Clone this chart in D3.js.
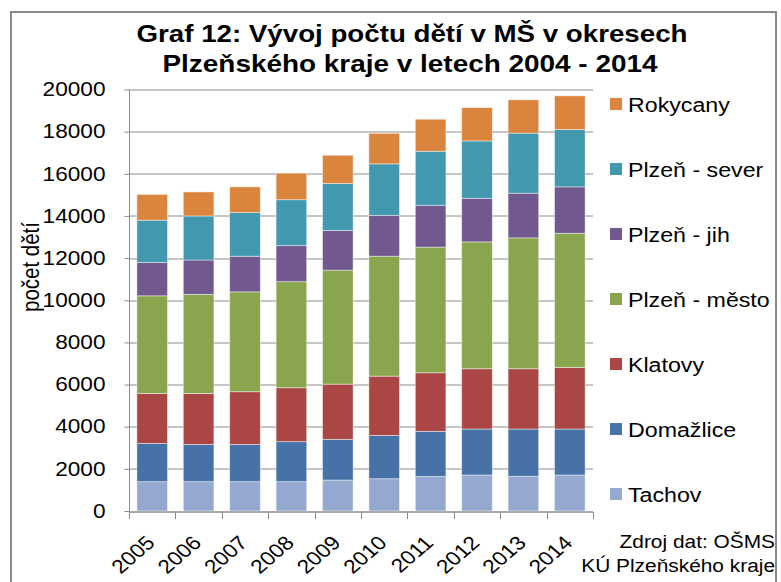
<!DOCTYPE html>
<html>
<head>
<meta charset="utf-8">
<script src="https://cdn.jsdelivr.net/npm/d3@7"></script>
<style>
  body { margin: 0; background: #fff; }
  svg { font-family: "Liberation Sans", Arial, sans-serif; }
</style>
</head>
<body>
<div id="chart"></div>
<script>
// years on the x axis
const years = ["2005", "2006", "2007", "2008", "2009", "2010", "2011", "2012", "2013", "2014"];

// series, bottom to top of the stack
const seriesNames = ["Tachov", "Domažlice", "Klatovy", "Plzeň - město", "Plzeň - jih", "Plzeň - sever", "Rokycany"];
const tachov   = [1390, 1390, 1390, 1390, 1470, 1530, 1640, 1710, 1650, 1710];
const domazlice = [1820, 1770, 1770, 1900, 1930, 2060, 2140, 2180, 2240, 2180];
const klatovy  = [2370, 2420, 2500, 2560, 2620, 2810, 2780, 2860, 2860, 2920];
const mesto    = [4630, 4700, 4740, 5030, 5410, 5690, 5960, 6020, 6210, 6370];
const jih      = [1580, 1630, 1690, 1710, 1880, 1940, 1990, 2070, 2120, 2200];
const sever    = [2010, 2090, 2070, 2180, 2230, 2440, 2560, 2720, 2850, 2720];
const rokycany = [1220, 1140, 1220, 1260, 1340, 1450, 1520, 1580, 1580, 1600];

const yTicks = [0, 2000, 4000, 6000, 8000, 10000, 12000, 14000, 16000, 18000, 20000];
const colors = ["#95a9d0", "#4672a7", "#aa4744", "#89a54e", "#71598f", "#4298af", "#db843d"];

const seriesValues = [tachov, domazlice, klatovy, mesto, jih, sever, rokycany];

// table for d3.stack
const table = years.map(function(y, i) {
    const row = {year: y};
    seriesNames.forEach(function(s, j) { row[s] = seriesValues[j][i]; });
    return row;
});

// the original picture is a bit stretched sideways, so the text is too
const SX = 1.16;

const W = 781, H = 582;
const margin = {top: 89.5, right: 188, bottom: 71, left: 129};
const width = W - margin.left - margin.right,
      height = H - margin.top - margin.bottom;

const svg = d3.select("#chart")
    .append("svg")
    .attr("width", W)
    .attr("height", H);

// outer frame
svg.append("rect")
    .attr("x", 11).attr("y", 12)
    .attr("width", 765).attr("height", 590)
    .attr("fill", "none")
    .attr("stroke", "#8a8a8a")
    .attr("stroke-width", 2);

// title
const title = svg.append("text")
    .attr("text-anchor", "middle")
    .attr("font-weight", "bold")
    .attr("font-size", 24)
    .attr("lengthAdjust", "spacingAndGlyphs")
    .attr("fill", "#000");
title.append("tspan").attr("x", 412).attr("y", 42)
    .attr("textLength", 551).attr("lengthAdjust", "spacingAndGlyphs")
    .text("Graf 12: Vývoj počtu dětí v MŠ v okresech");
title.append("tspan").attr("x", 410).attr("y", 72)
    .attr("textLength", 495).attr("lengthAdjust", "spacingAndGlyphs")
    .text("Plzeňského kraje v letech 2004 - 2014");

const g = svg.append("g")
    .attr("transform", `translate(${margin.left}, ${margin.top})`);

let x = d3.scaleBand()
    .domain(years)
    .range([0, width])
    .paddingInner(0.34)
    .paddingOuter(0.17);

let y = d3.scaleLinear()
    .domain([0, 20000])
    .range([height, 0]);

// gridlines
g.append("g")
    .selectAll("line")
    .data(yTicks)
    .enter()
    .append("line")
        .attr("x1", 0)
        .attr("x2", width)
        .attr("y1", function(d) { return Math.round(y(d)) + 0.5; })
        .attr("y2", function(d) { return Math.round(y(d)) + 0.5; })
        .attr("stroke", "#8c8c8c")
        .attr("stroke-width", 1);

// stacked bars
const stacked = d3.stack().keys(seriesNames)(table);

g.append("g")
    .selectAll("g")
    .data(stacked)
    .enter()
    .append("g")
        .attr("fill", function(d, i) { return colors[i]; })
    .selectAll("rect")
    .data(function(d) { return d; })
    .enter()
    .append("rect")
        .attr("x", function(d) { return x(d.data.year); })
        .attr("y", function(d) { return y(d[1]); })
        .attr("width", x.bandwidth())
        .attr("height", function(d) { return y(d[0]) - y(d[1]); })
        .attr("stroke", "#ffffff")
        .attr("stroke-opacity", 0.55)
        .attr("stroke-width", 0.8);

// y axis
const yAxis = g.append("g")
    .attr("transform", "translate(0.5, 0)")
    .call(d3.axisLeft(y).tickValues(yTicks).tickSize(5).tickFormat(d3.format("d")));
yAxis.select(".domain").attr("stroke", "#8c8c8c").attr("d", `M0,${y(20000)}V${height}`);
yAxis.selectAll(".tick line").attr("stroke", "#8c8c8c");
yAxis.selectAll(".tick text")
    .attr("x", 0)
    .attr("transform", `translate(-24, 0) scale(${SX}, 1)`)
    .attr("font-size", 19.5)
    .attr("font-family", "Liberation Sans, Arial, sans-serif")
    .attr("fill", "#000");

// x axis: ticks at category borders
const xAxis = g.append("g")
    .attr("transform", `translate(0, ${Math.round(height) + 0.5})`);
xAxis.append("line")
    .attr("x1", 0).attr("x2", width)
    .attr("stroke", "#8c8c8c");
const step = x.step();
xAxis.selectAll(".xtick")
    .data(d3.range(years.length + 1))
    .enter()
    .append("line")
        .attr("x1", function(i) { return Math.round(i * step) + 0.5; })
        .attr("x2", function(i) { return Math.round(i * step) + 0.5; })
        .attr("y1", 0)
        .attr("y2", 7)
        .attr("stroke", "#8c8c8c");

xAxis.selectAll(".xlabel")
    .data(years)
    .enter()
    .append("text")
        .attr("text-anchor", "end")
        .attr("font-size", 19.5)
        .attr("transform", function(d) {
            const cx = x(d) + x.bandwidth() / 2 + 4;
            return `translate(${cx}, 32) scale(${SX}, 1) rotate(-45)`;
        })
        .text(function(d) { return d; });

// y axis title
svg.append("text")
    .attr("transform", `translate(39, 267) scale(${SX}, 1) rotate(-90)`)
    .attr("text-anchor", "middle")
    .attr("font-size", 20.5)
    .text("počet dětí");

// legend, top entry is the last series
const legendRows = seriesNames.slice().reverse();
const legend = svg.append("g")
    .selectAll("g")
    .data(legendRows)
    .enter()
    .append("g")
        .attr("transform", function(d, i) { return `translate(610, ${104 + i * 65})`; });

legend.append("rect")
    .attr("x", 0).attr("y", -6)
    .attr("width", 12).attr("height", 12)
    .attr("fill", function(d) { return colors[seriesNames.indexOf(d)]; });

legend.append("text")
    .attr("transform", `translate(18, 7.5) scale(${SX}, 1)`)
    .attr("font-size", 20)
    .text(function(d) { return d; });

// source note
const note = svg.append("g")
    .attr("transform", `translate(775, 0) scale(${SX}, 1)`)
    .append("text")
    .attr("text-anchor", "end")
    .attr("font-size", 18);
note.append("tspan").attr("x", 0).attr("y", 548).text("Zdroj dat: OŠMS");
note.append("tspan").attr("x", 0).attr("y", 572).text("KÚ Plzeňského kraje");
</script>
</body>
</html>
